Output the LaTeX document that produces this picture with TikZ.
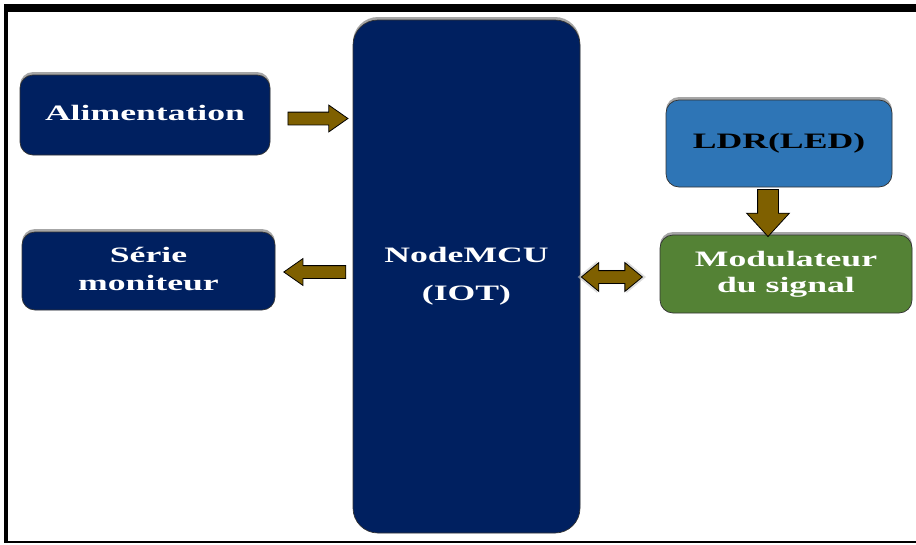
\documentclass[tikz,border=0pt]{standalone}
\usepackage{fontspec}
\setmainfont{Liberation Serif}
\usetikzlibrary{shapes.arrows,shadows,calc}
\definecolor{navy}{HTML}{002060}
\definecolor{ldrblue}{HTML}{2E75B6}
\definecolor{modgreen}{HTML}{548235}
\definecolor{arrowgold}{HTML}{7F6000}
\newcommand{\wide}[1]{\scalebox{1.62}[1]{#1}}
\begin{document}
\begin{tikzpicture}[x=1pt,y=-1pt,
  box/.style={draw=black!80, line width=0.7pt, rounded corners=13pt, text=white,
    font=\fontsize{22pt}{26pt}\selectfont\bfseries, inner sep=0pt,
    general shadow={fill=gray!70, shadow yshift=3pt}},
  blockarrow/.style={single arrow, draw=black, line width=0.8pt, fill=arrowgold,
    inner xsep=0pt, inner ysep=6pt, single arrow head extend=7pt,
    single arrow tip angle=70, single arrow head indent=0pt}
]
\useasboundingbox (0,0) rectangle (916,544);
% frame
\fill[black] (4,4) rectangle (916,12);
\fill[black] (4,4) rectangle (8,543);
\fill[black] (4,540.5) rectangle (916,543);
% boxes
\node[box, fill=navy, minimum width=227pt, minimum height=513pt, rounded corners=25pt] (mcu) at (466.5,276.5)
  {\wide{\begin{tabular}{@{}c@{}}NodeMCU\\[12pt](IOT)\end{tabular}}};
\node[box, fill=navy, minimum width=250pt, minimum height=80pt] (alim) at (145,115)
  {\raisebox{4pt}{\wide{Alimentation}}};
\node[box, fill=navy, minimum width=253pt, minimum height=78pt] (serie) at (148.5,271)
  {\raisebox{3pt}{\wide{\begin{tabular}{@{}c@{}}Série\\[2pt]moniteur\end{tabular}}}};
\node[box, fill=ldrblue, text=black, minimum width=226pt, minimum height=87pt] (ldr) at (779,143.5)
  {\wide{LDR(LED)}};
\node[box, fill=modgreen, minimum width=252pt, minimum height=78pt] (mod) at (786,274)
  {\raisebox{3pt}{\wide{\begin{tabular}{@{}c@{}}Modulateur\\du signal\end{tabular}}}};
% arrows
\node[blockarrow, minimum height=60pt] (a1) at ($(alim.east)+(43,3.5)$) {};
\node[blockarrow, minimum height=62pt, shape border rotate=180] (a2) at ($(serie.east)+(44,1)$) {};
\node[double arrow, draw=black, line width=0.8pt, fill=arrowgold,
  inner xsep=0pt, inner ysep=6pt, double arrow head extend=8pt,
  double arrow tip angle=79, double arrow head indent=0pt,
  minimum height=61pt,
  general shadow={fill=gray!45, shadow scale=1.12, opacity=0.6}] (a3) at ($(mcu.east)+(31.5,0.5)$) {};
\node[blockarrow, minimum width=0pt, minimum height=47pt, inner xsep=10pt, inner ysep=0pt,
  single arrow head extend=11pt, single arrow tip angle=85, shape border rotate=270]
  (a4) at ($(ldr.south)+(-11,20)$) {};
\end{tikzpicture}
\end{document}
